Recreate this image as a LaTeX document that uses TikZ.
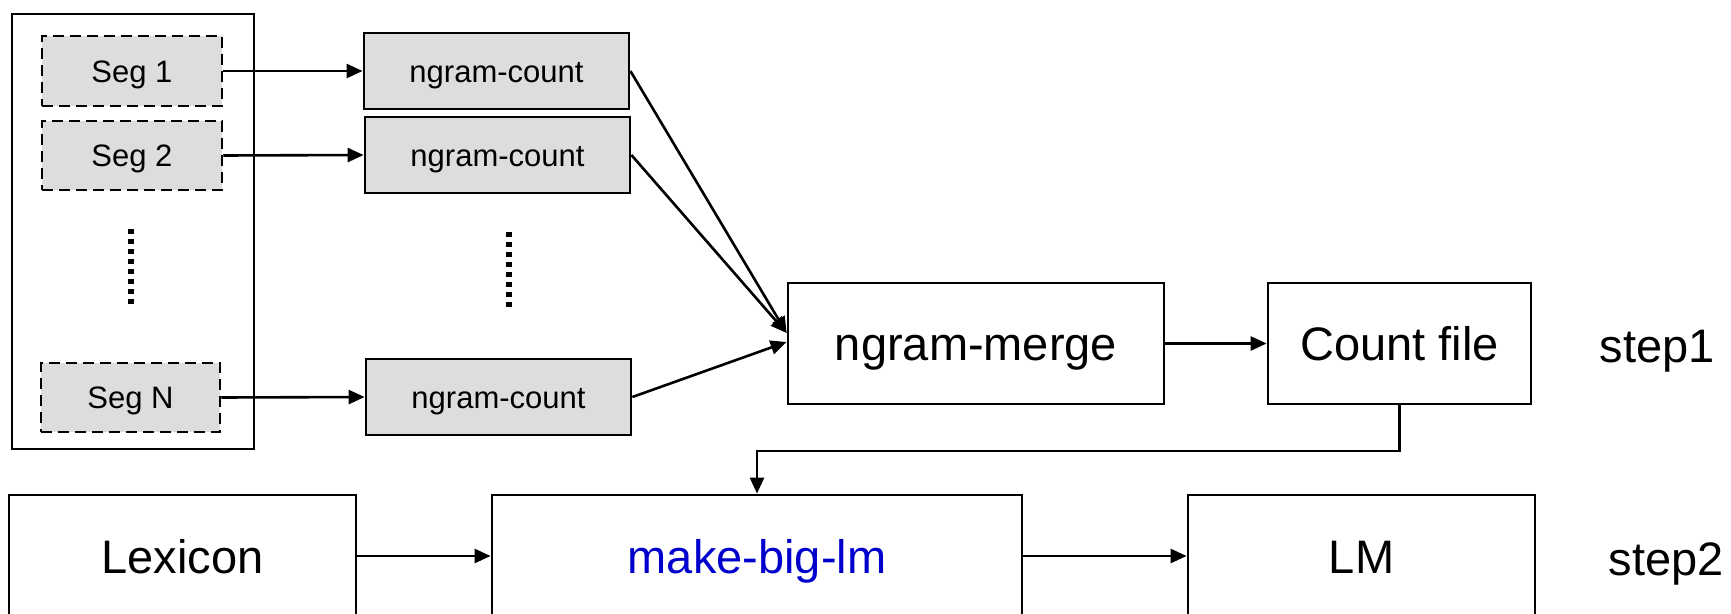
\documentclass[tikz,border=0pt]{standalone}
\usepackage{fontspec}
\setmainfont{Liberation Sans}
\usetikzlibrary{arrows.meta,calc}
\definecolor{segfill}{HTML}{DDDDDD}
\definecolor{toolblue}{HTML}{0000CC}
\begin{document}
\begin{tikzpicture}[x=1pt,y=-1pt,
  box/.style={draw,line width=2.8pt,inner sep=0pt,text depth=0pt},
  bigtxt/.style={font=\fontsize{47}{50}\selectfont,text height=34pt,text depth=0pt},
  smalltxt/.style={font=\fontsize{31}{34}\selectfont,text height=22pt,text depth=0pt},
  segbox/.style={box,smalltxt,fill=segfill,line width=2.5pt,dash pattern=on 11pt off 6pt},
  countbox/.style={box,smalltxt,fill=segfill,minimum width=265pt,minimum height=76pt},
  arr/.style={line width=2.6pt,-{Triangle[length=16pt,width=14pt]}},
  vdots/.style={line width=6pt,dash pattern=on 5pt off 5pt}]
\useasboundingbox (0,0) rectangle (1731,613);
\clip (0,0) rectangle (1731,613);

% step 1: segments counted in parallel, then merged
\node[draw,line width=2.5pt,minimum width=242pt,minimum height=435pt,inner sep=0pt] (corpus) at (133,231.5) {};
\node[segbox,minimum width=180pt,minimum height=70pt] (seg1) at (132,71) {Seg 1};
\node[segbox,minimum width=180pt,minimum height=69pt] (seg2) at (132,155.5) {Seg 2};
\node[segbox,minimum width=179pt,minimum height=69pt] (segN) at (130.5,397.5) {Seg N};
\draw[vdots] (131,229) -- (131,307);

\node[countbox] (nc1) at (496.5,71) {ngram-count};
\node[countbox] (nc2) at (497.5,155) {ngram-count};
\node[countbox] (nc3) at (498.5,397) {ngram-count};
\draw[vdots] (509,232) -- (509,310);

\node[box,bigtxt,minimum width=376pt,minimum height=121pt] (merge) at (976,343.5) {ngram-merge};
\node[box,bigtxt,minimum width=263pt,minimum height=121pt] (count) at (1399.5,343.5) {Count file};
\node[bigtxt,inner sep=0pt] (step1) at (1657,345) {step1};

\draw[arr] (seg1.east) -- (nc1.west);
\draw[arr] (seg2.east) -- (nc2.west);
\draw[arr] (segN.east) -- (nc3.west);

\coordinate (mtop) at ($(merge.west)+(0,-10.5)$);
\coordinate (mlow) at ($(merge.west)+(0,-1.5)$);
\draw[arr] (nc1.east) -- (mtop);
\draw[arr] (nc2.east) -- (mtop);
\draw[arr] (nc3.east) -- (mlow);
\draw[arr] (merge.east) -- (count.west);

% step 2: build the language model
\node[box,bigtxt,minimum width=347pt,minimum height=122pt] (lex) at (182.5,556) {Lexicon};
\node[box,bigtxt,text=toolblue,minimum width=530pt,minimum height=122pt] (mbl) at (757,556) {make-big-lm};
\node[box,bigtxt,minimum width=347pt,minimum height=122pt] (lm) at (1361.5,556) {LM};
\node[bigtxt,inner sep=0pt] (step2) at (1666,558) {step2};

\draw[arr] (count.south) -- ++(0,45.5) -| (mbl.north);
\draw[arr] (lex.east) -- (mbl.west);
\draw[arr] (mbl.east) -- (lm.west);
\end{tikzpicture}
\end{document}
